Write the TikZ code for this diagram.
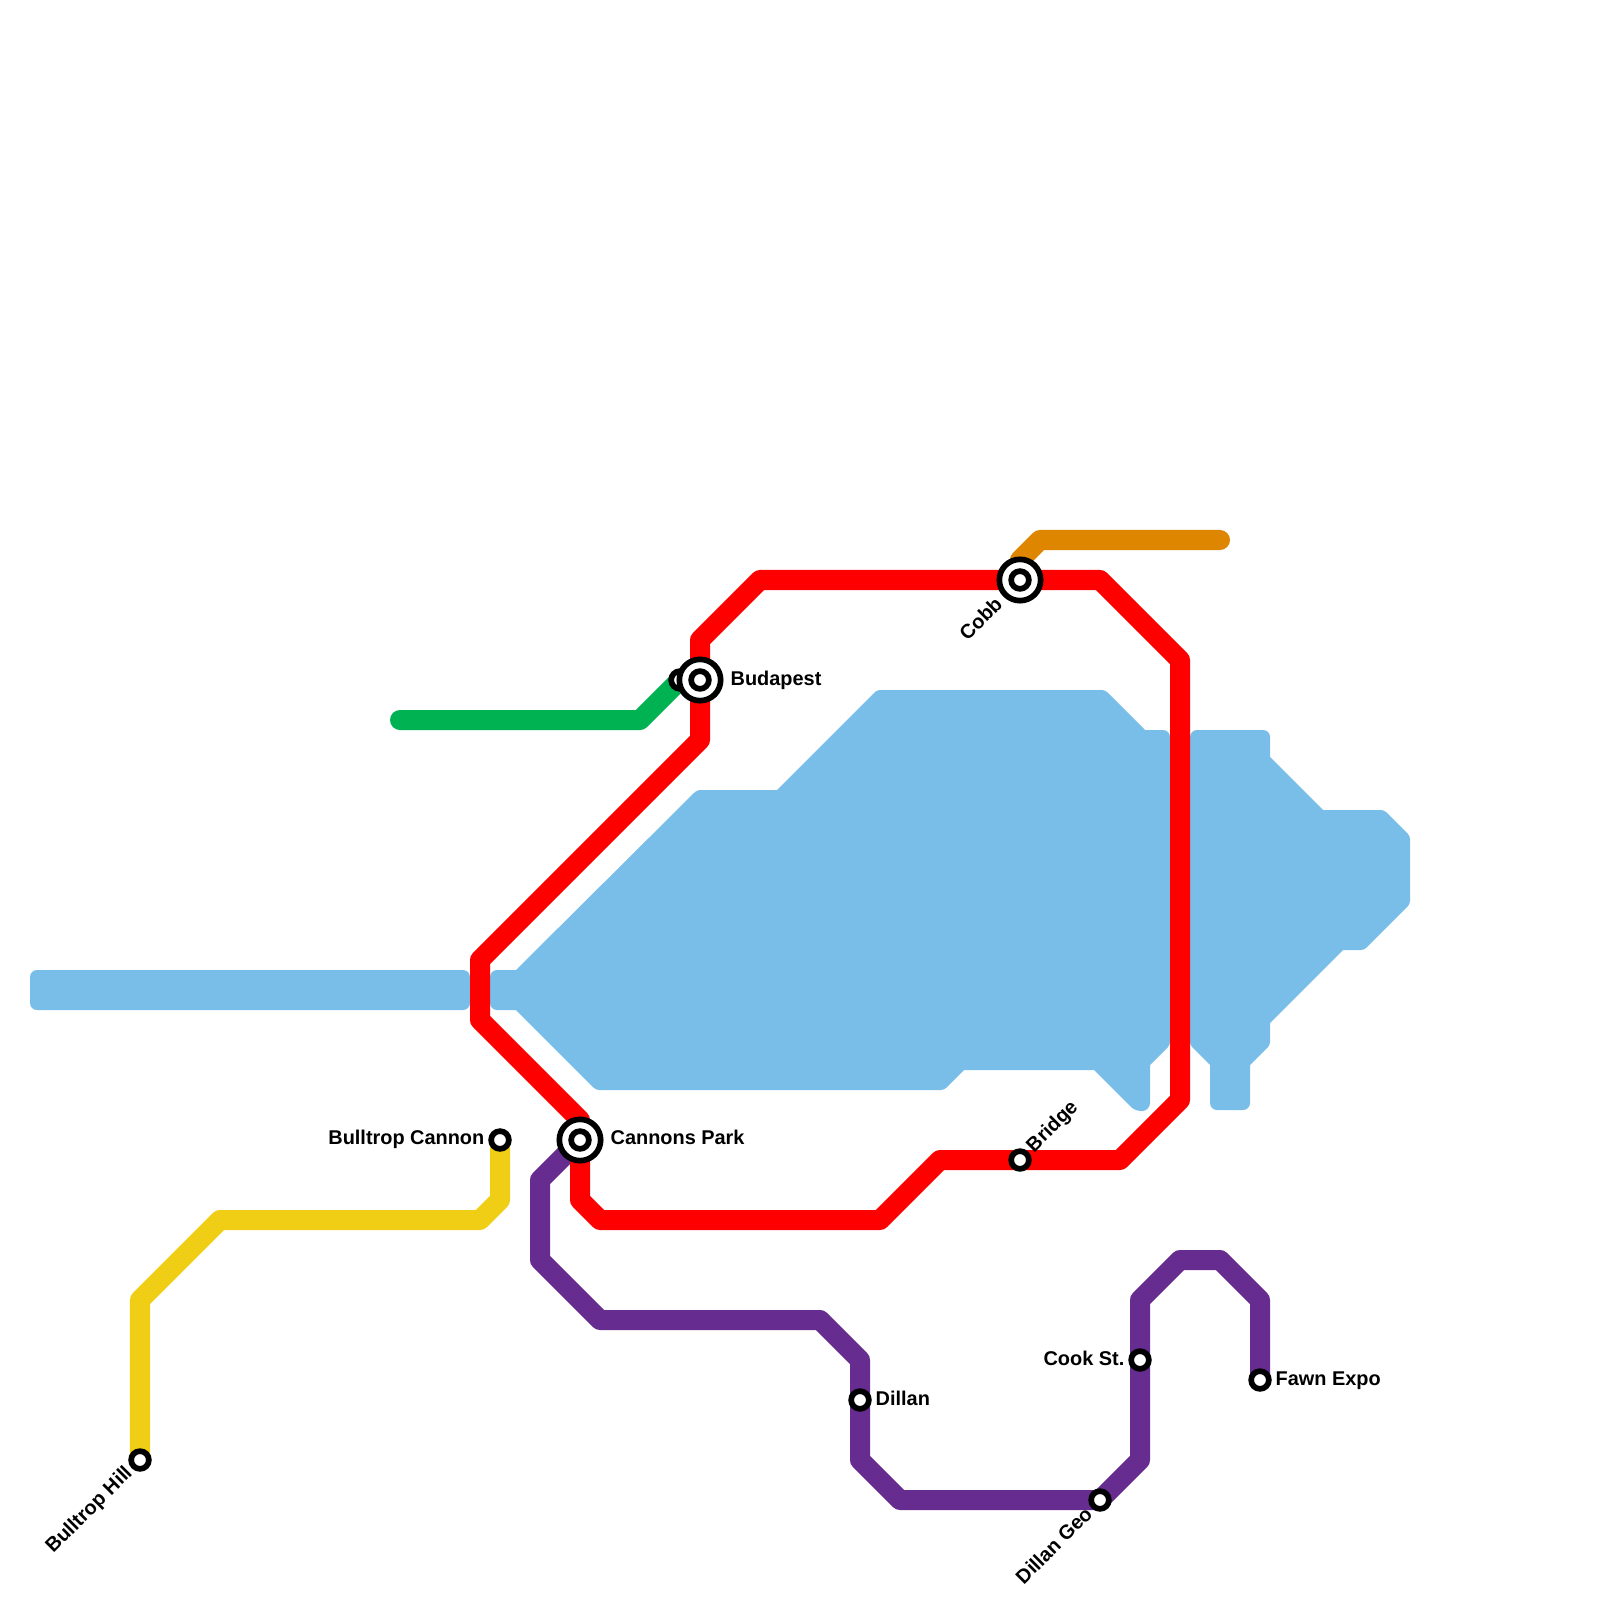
\documentclass[tikz,border=0pt]{standalone}
\usepackage{fontspec}
\setmainfont{Liberation Sans}
\usetikzlibrary{positioning,backgrounds}
\definecolor{water}{HTML}{79BDE9}
\definecolor{redline}{HTML}{FF0000}
\definecolor{greenline}{HTML}{00B251}
\definecolor{yellowline}{HTML}{F0CE15}
\definecolor{purpleline}{HTML}{662C90}
\definecolor{orangeline}{HTML}{DF8600}
\tikzset{
  route/.style={line width=2mm, line join=round, line cap=round},
  lake/.style={fill=water},
  sq/.style={rounded corners=0.7mm},
  ob/.style={rounded corners=0.3mm},
  sh/.style={sharp corners},
  stop/.style={circle, draw=black, fill=white, line width=0.57mm, minimum size=1.77mm, inner sep=0pt},
  hubring/.style={circle, draw=black, fill=white, line width=0.57mm, minimum size=4.13mm, inner sep=0pt},
  stoplabel/.style={font=\fontsize{5.66}{7}\selectfont\bfseries, inner sep=0pt}
}

\begin{document}
\begin{tikzpicture}[x=0.01cm, y=-0.01cm]
  \useasboundingbox (0,0) rectangle (1600,1600);

  % Stations
  \node[stop] (budapestb) at (680,680) {};
  \node[hubring] (budapestr) at (700,680) {};
  \node[stop] (budapest) at (700,680) {};
  \node[hubring] (cannonsr) at (580,1140) {};
  \node[stop] (cannons) at (580,1140) {};
  \node[hubring] (cobbr) at (1020,580) {};
  \node[stop] (cobb) at (1020,580) {};
  \node[stop] (bullcannon) at (500,1140) {};
  \node[stop] (bullhill) at (140,1460) {};
  \node[stop] (bridge) at (1020,1160) {};
  \node[stop] (dillan) at (860,1400) {};
  \node[stop] (dillangeo) at (1100,1500) {};
  \node[stop] (cook) at (1140,1360) {};
  \node[stop] (fawn) at (1260,1380) {};

  % Labels
  \node[stoplabel, anchor=west] (budapestl) at (730,680) {Budapest};
  \node[stoplabel, anchor=west] (cannonsl) at (610,1137) {Cannons Park};
  \node[stoplabel, anchor=east] (bullcannonl) at (485,1139) {Bulltrop Cannon};
  \node[stoplabel, anchor=east] (cookl) at (1125,1358) {Cook St.};
  \node[stoplabel, anchor=west] (fawnl) at (1275,1381) {Fawn Expo};
  \node[stoplabel, anchor=west] (dillanl) at (875,1398) {Dillan};
  \node[stoplabel, anchor=east, rotate=45] (bullhilll) at (130,1470) {Bulltrop Hill};
  \node[stoplabel, anchor=east, rotate=45] (dillangeol) at (1089,1510) {Dillan Geo};
  \node[stoplabel, anchor=east, rotate=45] (cobbl) at (999,600) {Cobb};
  \node[stoplabel, anchor=west, rotate=45] (bridgel) at (1030,1150) {Bridge};

  \begin{scope}[on background layer]
    % Water
    \fill[lake, sq] (30,970) rectangle (470,1010);
    \fill[lake] (1000,690) [ob] -- (1105,690) [sh] -- (1145,730) [sq] -- (1170,730)
      [ob] -- (1170,1045) [sh] -- (1150,1065) [sq] -- (1150,1110) -- (1136,1112)
      [sh] -- (1094,1070) -- (964,1070) [ob] -- (944,1090) -- (596,1090)
      [sh] -- (516,1010) [sq] -- (490,1010) -- (490,970) [sh] -- (516,970)
      [ob] -- (697,790) [sh] -- (777,790) [ob] -- (877,690) -- cycle;
    \fill[lake] (1190,900) [sq] -- (1190,730) -- (1270,730) [sh] -- (1270,757)
      -- (1323,810) [ob] -- (1384,810) -- (1410,836) -- (1410,904)
      -- (1364,950) [sh] -- (1343,950) -- (1270,1023) [ob] -- (1270,1045)
      [sh] -- (1250,1065) [sq] -- (1250,1110) -- (1210,1110) [sh] -- (1210,1065)
      [ob] -- (1190,1045) -- cycle;

    % Lines
    \draw[route, greenline] (400,720) -- (640,720) -- (budapestb.center);
    \draw[route, orangeline] (1220,540) -- (1040,540) -- (1020,560) -- (cobb.center);
    \draw[route, yellowline] (bullcannon.center) -- (500,1200) -- (480,1220) -- (220,1220)
      -- (140,1300) -- (bullhill.center);
    \draw[route, purpleline] (cannons.center) -- (540,1180) -- (540,1260) -- (600,1320)
      -- (820,1320) -- (860,1360) -- (dillan.center) -- (860,1460) -- (900,1500)
      -- (dillangeo.center) -- (1140,1460) -- (cook.center) -- (1140,1300) -- (1180,1260)
      -- (1220,1260) -- (1260,1300) -- (fawn.center);
    \draw[route, redline] (budapest.center) -- (700,740) -- (480,960) -- (480,1020)
      -- (580,1120) -- (cannons.center) -- (580,1200) -- (600,1220) -- (880,1220)
      -- (940,1160) -- (bridge.center) -- (1120,1160) -- (1180,1100) -- (1180,660)
      -- (1100,580) -- (cobb.center) -- (760,580) -- (700,640) -- (budapest.center);
  \end{scope}
\end{tikzpicture}
\end{document}
